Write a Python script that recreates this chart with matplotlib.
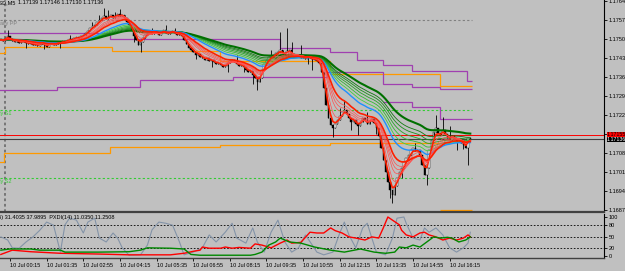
import matplotlib
matplotlib.use('Agg')
from matplotlib import pyplot as plt
from matplotlib.transforms import blended_transform_factory
import pandas as pd

plt.rcParams['font.family'] = ['Liberation Sans', 'DejaVu Sans']

BG = '#c0c0c0'

# M5 candles, first bar 09 Jul 23:55, one bar per 5 minutes
closes = [
    1.17502, 1.17498, 1.17509, 1.17516, 1.17505, 1.17498, 1.17494, 1.17502, 1.17491, 1.17494, 1.17498, 1.17491, 1.17487,
    1.17491, 1.17483, 1.17487, 1.17480, 1.17487, 1.17494, 1.17483, 1.17476, 1.17487, 1.17491, 1.17483, 1.17487, 1.17494,
    1.17491, 1.17498, 1.17494, 1.17502, 1.17505, 1.17502, 1.17509, 1.17513, 1.17509, 1.17516, 1.17520, 1.17527, 1.17535,
    1.17546, 1.17553, 1.17557, 1.17568, 1.17575, 1.17583, 1.17590, 1.17579, 1.17586, 1.17594, 1.17583, 1.17590,
    1.17597, 1.17590, 1.17594, 1.17583, 1.17568, 1.17557, 1.17538, 1.17516, 1.17502, 1.17483, 1.17494, 1.17509,
    1.17520, 1.17527, 1.17531, 1.17524, 1.17535, 1.17527, 1.17520, 1.17531, 1.17538, 1.17527, 1.17524, 1.17531, 1.17535,
    1.17527, 1.17520, 1.17524, 1.17516,
    1.17502, 1.17487, 1.17472, 1.17465, 1.17458, 1.17446, 1.17450, 1.17439, 1.17435, 1.17428, 1.17435, 1.17424, 1.17428,
    1.17421, 1.17413, 1.17417,
    1.17410, 1.17402, 1.17406, 1.17417, 1.17424, 1.17428, 1.17421, 1.17413, 1.17406, 1.17410, 1.17402, 1.17391, 1.17384,
    1.17387, 1.17373, 1.17362,
    1.17347, 1.17362, 1.17391, 1.17413, 1.17428, 1.17439, 1.17443, 1.17446, 1.17454, 1.17458,
    1.17465, 1.17454, 1.17446, 1.17461, 1.17465, 1.17450, 1.17439, 1.17446, 1.17443, 1.17435, 1.17439, 1.17432, 1.17443,
    1.17435, 1.17428, 1.17432, 1.17424, 1.17417,
    1.17384, 1.17325, 1.17262, 1.17214, 1.17188, 1.17177, 1.17192, 1.17207,
    1.17222, 1.17236, 1.17244, 1.17229, 1.17214, 1.17199, 1.17207, 1.17192, 1.17185, 1.17199, 1.17214, 1.17207, 1.17192,
    1.17203, 1.17211, 1.17196, 1.17177,
    1.17148, 1.17104, 1.17059, 1.17015, 1.16979, 1.16949, 1.16931, 1.16964,
    1.16993, 1.17015, 1.17030, 1.17052, 1.17067, 1.17078, 1.17096, 1.17104, 1.17093, 1.17096, 1.17078,
    1.17041, 1.17004, 1.17030, 1.17096,
    1.17133, 1.17163, 1.17177, 1.17159, 1.17152, 1.17170, 1.17155, 1.17141, 1.17133, 1.17148, 1.17141, 1.17130, 1.17137,
    1.17122, 1.17115, 1.17104, 1.17139, 1.17136,
]

# long wicks (bar index, price reached)
spike_idx = [3, 11, 19, 26, 30, 40, 43, 45, 47, 50, 52, 58, 61, 66, 72, 76, 85, 92, 99, 103, 106, 110, 112,
             118, 122, 125, 127, 131, 134, 136, 145, 148, 150, 153, 156, 160, 164, 170, 171, 175, 181, 186,
             190, 193, 196, 199, 202, 204]
spike_px = [1.17538, 1.17472, 1.17469, 1.17472, 1.17520, 1.17568, 1.17594, 1.17620, 1.17612, 1.17605, 1.17616,
            1.17494, 1.17458, 1.17546, 1.17557, 1.17546, 1.17432, 1.17402, 1.17384, 1.17446, 1.17384, 1.17340,
            1.17317, 1.17465, 1.17531, 1.17546, 1.17494, 1.17483, 1.17413, 1.17391, 1.17144, 1.17251, 1.17281,
            1.17170, 1.17152, 1.17236, 1.17155, 1.16920, 1.16901, 1.16993, 1.17122, 1.16967, 1.17225, 1.17218,
            1.17185, 1.17096, 1.17100, 1.17041]

red_periods = [3, 5, 8, 10, 12, 15]
blue_period = 25
green_periods = [30, 35, 40, 45, 50, 60]

# stepped level lines: bar-index edges and price levels
orange_a_edges = [-1, 2, 48.5, 95.7, 143.7, 191.8, 205.7]
orange_a_levels = [1.17454, 1.17476, 1.17461, 1.17424, 1.17376, 1.17332]
orange_b_edges = [-1, 1.4, 47.7, 95.7, 143.7, 191.8]
orange_b_levels = [1.17052, 1.17085, 1.17107, 1.17115, 1.17122]
orange_c_edges = [191.8, 205.7]
orange_c_levels = [1.16875]
purple_a_edges = [-1, 47.7, 121.9, 143.7, 155.5, 166.9, 179.5, 203.6, 205.7]
purple_a_levels = [1.17527, 1.17505, 1.17472, 1.17457, 1.17428, 1.17410, 1.17387, 1.17351]
purple_b_edges = [-1, 24.5, 60.8, 101.4, 142.4, 166.9, 179.5, 191.8, 205.7]
purple_b_levels = [1.17317, 1.17328, 1.17354, 1.17365, 1.17384, 1.17340, 1.17328, 1.17321]
purple_c_edges = [166.9, 179.5, 191.8, 205.7]
purple_c_levels = [1.17273, 1.17255, 1.17211]

daily_pp = 1.17575
daily_s1 = 1.17244
daily_s2 = 1.16993
ask = 1.17150
bid = 1.17136

price_ticks = [1.17645, 1.17575, 1.17505, 1.17435, 1.17365, 1.17295, 1.17225, 1.17155,
               1.17085, 1.17015, 1.16945, 1.16875]

time_idx = [4, 20, 36, 52, 68, 84, 100, 116, 132, 148, 164, 180, 196]
time_labels = ['10 Jul 00:15', '10 Jul 01:35', '10 Jul 02:55', '10 Jul 04:15', '10 Jul 05:35',
               '10 Jul 06:55', '10 Jul 08:15', '10 Jul 09:35', '10 Jul 10:55', '10 Jul 12:15',
               '10 Jul 13:35', '10 Jul 14:55', '10 Jul 16:15']

# ADX panel
grey_x = [0, 3, 5, 8, 11, 14, 17, 20, 23, 26, 28, 30, 33, 36, 38, 41, 43, 46, 49, 51, 53, 56, 61, 64, 66, 69,
          72, 75, 78, 80, 84, 88, 91, 94, 98, 101, 103, 107, 110, 112, 115, 118, 121, 124, 127, 130, 133, 136,
          138, 141, 145, 148, 150, 152, 155, 158, 160, 162, 164, 168, 171, 173, 176, 177, 180, 183, 185, 187,
          190, 193, 196, 199, 202, 204, 205]
grey_v = [49, 41, 21, 20, 36, 49, 66, 87, 79, 10, 80, 97, 92, 59, 87, 97, 46, 36, 59, 46, 21, 2, 3, 28, 67, 87,
          84, 79, 36, 3, 10, 21, 54, 36, 61, 84, 46, 33, 72, 36, 10, 61, 92, 36, 10, 21, 54, 28,
          10, 3, 10, 59, 87, 54, 21, 72, 84, 46, 10, 3, 46, 97, 100, 84, 46, 41, 72, 61,
          72, 54, 21, 10, 21, 33, 61]
red_x = [0, 5, 13, 26, 43, 56, 74, 80, 84, 87, 88, 91, 96, 98, 101, 104, 109, 111, 114, 118, 122, 125, 127, 131,
         135, 138, 141, 144, 146, 149, 152, 155, 159, 162, 165, 167, 169, 171, 174, 175, 177, 180, 183, 185, 187,
         190, 193, 196, 199, 202, 204, 205]
red_v = [4, 15, 11, 7, 5, 3, 3, 7, 12, 15, 23, 20, 20, 23, 20, 22, 20, 31, 28, 21, 33, 41, 33, 35,
         61, 59, 59, 72, 65, 59, 49, 46, 41, 49, 46, 72, 100, 92, 80, 66, 54, 49, 59, 61, 54,
         49, 41, 46, 41, 46, 54, 49]
green_x = [0, 4, 13, 17, 26, 28, 43, 56, 61, 64, 74, 80, 83, 87, 109, 111, 114, 117, 120, 122, 126, 131, 137, 144,
           150, 157, 163, 168, 172, 174, 177, 180, 183, 186, 189, 192, 195, 197, 200, 203, 205]
green_v = [15, 18, 18, 15, 15, 10, 10, 11, 15, 21, 20, 18, 4, 2, 2, 4, 10, 28, 36, 46, 36, 33, 23, 15,
           10, 18, 10, 7, 10, 23, 21, 28, 23, 36, 49, 46, 48, 46, 36, 41, 49]
adx_levels = [20, 50, 80]
adx_ticks = [100, 80, 50, 20, 0]


def px_box(left, top, right, bottom):
    return [left / 625, 1 - bottom / 271, (right - left) / 625, (bottom - top) / 271]


fig = plt.figure(figsize=(6.25, 2.71), dpi=100, facecolor=BG)
ax = fig.add_axes(px_box(0, 0, 604, 212), facecolor=BG)
ax2 = fig.add_axes(px_box(0, 214, 604, 258), facecolor=BG)

x_lo, x_hi = -0.85 / 2.29, (604 - 0.85) / 2.29
for a in (ax, ax2):
    a.set_xlim(x_lo, x_hi)
    for side in ('left', 'top'):
        a.spines[side].set_visible(False)
    a.spines['right'].set_color('black')
    a.spines['right'].set_linewidth(0.8)
ax.set_ylim(1.17649 - 212 * 0.00003684, 1.17649)
ax2.set_ylim(-5.1, 107.7)
ax.spines['bottom'].set_color('#404040')
ax.spines['bottom'].set_linewidth(1.6)
ax2.spines['bottom'].set_color('#404040')
ax2.spines['bottom'].set_linewidth(1.0)

# day separator
ax.axvline(2, color='#707070', lw=1.3, ls=(0, (1.5, 1.5)), zorder=1)

# pivot lines
end_x = len(closes) - 0.3
ax.hlines(daily_pp, x_lo, end_x, color='#808080', lw=0.8, ls=(0, (2, 2)), zorder=1)
ax.hlines([daily_s1, daily_s2], x_lo, end_x, color='#33cc33', lw=0.8, ls=(0, (2, 2)), zorder=1)
tr = blended_transform_factory(fig.transFigure, ax.transData)
txt = dict(fontsize=4.0, va='top', transform=tr, clip_on=False)
ax.text(-4.3 / 625, daily_pp - 0.00004, 'Daily PP', color='#808080', **txt)
ax.text(-9 / 625, daily_s1 - 0.00004, 'Daily S1', color='#33cc33', **txt)
ax.text(-9 / 625, daily_s2 - 0.00004, 'Daily S2', color='#33cc33', **txt)

# stepped levels
for e, l in ((orange_a_edges, orange_a_levels), (orange_b_edges, orange_b_levels),
             (orange_c_edges, orange_c_levels)):
    ax.stairs(l, e, baseline=None, color='#ff9900', lw=0.9, zorder=2)
for e, l in ((purple_a_edges, purple_a_levels), (purple_b_edges, purple_b_levels),
             (purple_c_edges, purple_c_levels)):
    ax.stairs(l, e, baseline=None, color='#a040b0', lw=0.9, zorder=2)

# bid / ask lines
ax.axhline(ask + 0.00003, color='#7fdcdc', lw=0.6, zorder=2)
ax.axhline(ask, color='#ff0000', lw=0.7, zorder=2)
ax.axhline(bid + 0.00002, color='#909090', lw=0.6, zorder=2)
ax.axhline(bid, color='#404040', lw=0.8, zorder=2)

# candles
n = len(closes)
idx = list(range(n))
opens = [closes[0]] + closes[:-1]
highs = [max(o, c) for o, c in zip(opens, closes)]
lows = [min(o, c) for o, c in zip(opens, closes)]
for i, p in zip(spike_idx, spike_px):
    if p > highs[i]:
        highs[i] = p
    else:
        lows[i] = min(lows[i], p)
ax.vlines(idx, lows, highs, color='black', lw=0.6, zorder=3)
body_lo = [min(o, c) for o, c in zip(opens, closes)]
body_h = [max(abs(c - o), 0.00002) for o, c in zip(opens, closes)]
fills = ['white' if c > o else 'black' for o, c in zip(opens, closes)]
ax.bar(idx, body_h, bottom=body_lo, width=0.65, color=fills, edgecolor='black', lw=0.3, zorder=3)

# moving average ribbons
s = pd.Series(closes)
green_cols = ['#40d040', '#30bb30', '#25a525', '#1a901a', '#107a10', '#007000']
for p, c in zip(green_periods, green_cols):
    ax.plot(idx, s.ewm(span=p, adjust=False).mean(), color=c,
            lw=1.5 if p == green_periods[-1] else 0.6, zorder=4)
ax.plot(idx, s.ewm(span=blue_period, adjust=False).mean(), color='#1e90ff', lw=1.0, zorder=4)
for p in red_periods:
    edge = p in (red_periods[0], red_periods[-1])
    ax.plot(idx, s.ewm(span=p, adjust=False).mean(), color='#ff2000' if edge else '#ff5050',
            lw=1.2 if edge else 0.5, zorder=5)

# price axis (the ask box sits on the 1.17155 level)
ax.yaxis.tick_right()
ax.set_yticks(price_ticks)
ax.set_yticklabels(['' if abs(t - ask) < 0.0001 else f'{t:.5f}' for t in price_ticks])
ax.tick_params(axis='y', direction='out', length=2, width=0.6, pad=1.5, labelsize=4.0, colors='black')
ax.set_xticks([])
rtr = blended_transform_factory(ax.transAxes, ax.transData)
ax.text(1.005, ask + 0.00003, '1.17155', transform=rtr, fontsize=3.8, va='center', ha='left', color='black',
        bbox=dict(boxstyle='square,pad=0.05', fc='#ff0000', ec='none'), zorder=6, clip_on=False)
ax.text(1.005, bid - 0.00001, f'{bid:.5f}', transform=rtr, fontsize=3.8, va='center', ha='left', color='white',
        bbox=dict(boxstyle='square,pad=0.05', fc='black', ec='none'), zorder=7, clip_on=False)

# header
fig.text(16 / 625, 1 - 3 / 271, 'EURUSD,M5', fontsize=4.0, ha='right', va='center')
fig.text(18 / 625, 1 - 3 / 271, '1.17139 1.17146 1.17130 1.17136', fontsize=4.0, ha='left', va='center')

# ADX panel
ax2.hlines(adx_levels, x_lo, x_hi, color='black', lw=0.6, ls=(0, (2, 2)))
ax2.plot(grey_x, grey_v, color='#8494a8', lw=0.8)
ax2.plot(red_x, red_v, color='#ff0000', lw=1.0)
ax2.plot(green_x, green_v, color='#008800', lw=1.0)
ax2.yaxis.tick_right()
ax2.set_yticks(adx_ticks)
ax2.set_yticklabels([str(t) for t in adx_ticks])
ax2.tick_params(axis='y', direction='out', length=2, width=0.6, pad=1.5, labelsize=4.0)
ax2.set_xticks(time_idx)
ax2.set_xticklabels(time_labels)
ax2.tick_params(axis='x', direction='out', length=2, width=0.6, pad=1.5, labelsize=4.0)
for lbl in ax2.get_xticklabels():
    lbl.set_ha('left')
fig.text(-17.6 / 625, 1 - 218 / 271, 'ADX(15) 31.4035 37.9895  PXDI(14) 11.0350 11.2508',
         fontsize=4.0, ha='left', va='center')

fig.savefig('out.png', dpi=100, facecolor=BG)
